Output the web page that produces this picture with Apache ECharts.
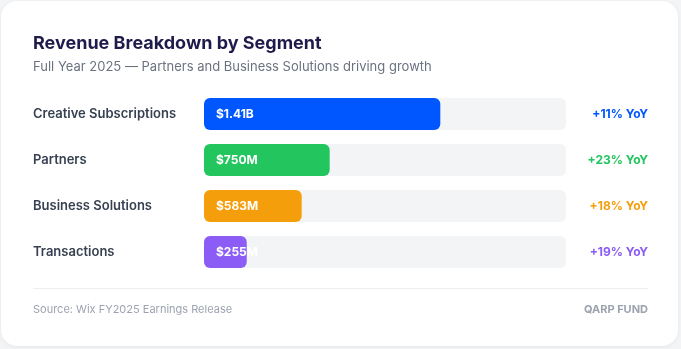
<!DOCTYPE html>
<html>
<head>
<meta charset="utf-8">
<script src="https://cdn.jsdelivr.net/npm/echarts@6/dist/echarts.min.js"></script>
<style>
  html, body { margin: 0; padding: 0; background: #f3f4f6; }
  #chart { width: 681px; height: 349px; }
</style>
</head>
<body>
<div id="chart"></div>
<script>
const categories = ['Creative Subscriptions', 'Partners', 'Business Solutions', 'Transactions'];
const revenue = [1410, 750, 583, 255];
const revenueLabels = ['$1.41B', '$750M', '$583M', '$255M'];
const yoyLabels = ['+11% YoY', '+23% YoY', '+18% YoY', '+19% YoY'];
const colors = ['#0057ff', '#22c55e', '#f59e0b', '#8b5cf6'];

const FONT = 'Inter, "Noto Sans", sans-serif';
const chart = echarts.init(document.getElementById('chart'));

const rich = {};
colors.forEach((c, i) => { rich['c' + i] = { color: c, fontSize: 12, fontWeight: 700, fontFamily: FONT }; });

chart.setOption({
  animation: false,
  backgroundColor: '#f3f4f6',
  graphic: [
    { type: 'rect', z: -10, shape: { x: 1, y: 1, width: 677, height: 345, r: 16 },
      style: { fill: '#ffffff', shadowBlur: 4, shadowColor: 'rgba(0,0,0,0.06)', shadowOffsetY: 1 } },
    { type: 'text', left: 33, top: 35, style: { text: 'Revenue Breakdown by Segment', fill: '#1e1b4b', font: '700 18px ' + FONT } },
    { type: 'text', left: 33, top: 61, style: { text: 'Full Year 2025 — Partners and Business Solutions driving growth', fill: '#6b7280', font: '400 13px ' + FONT } },
    { type: 'line', shape: { x1: 33, y1: 288.5, x2: 648, y2: 288.5 }, style: { stroke: '#eceef1', lineWidth: 1 } },
    { type: 'text', left: 33, top: 304, style: { text: 'Source: Wix FY2025 Earnings Release', fill: '#9ca3af', font: '400 11px ' + FONT } },
    { type: 'text', right: 33, top: 304, style: { text: 'QARP FUND', fill: '#9ca3af', font: '700 11px ' + FONT } }
  ],
  grid: { left: 204, right: 115, top: 91, height: 184 },
  xAxis: { type: 'value', min: 0, max: 2160, show: false },
  yAxis: [
    { type: 'category', data: categories, inverse: true,
      axisLine: { show: false }, axisTick: { show: false },
      axisLabel: { align: 'left', margin: 171, color: '#374151', fontSize: 13, fontWeight: 600, fontFamily: FONT } },
    { type: 'category', data: yoyLabels, inverse: true, position: 'right',
      axisLine: { show: false }, axisTick: { show: false },
      axisLabel: { align: 'right', margin: 82, fontFamily: FONT, rich: rich,
        formatter: (v, i) => '{c' + i + '|' + v + '}' } }
  ],
  series: [{
    type: 'bar',
    data: revenue.map((v, i) => ({ value: v, itemStyle: { color: colors[i] } })),
    barWidth: 32,
    showBackground: true,
    backgroundStyle: { color: '#f3f4f6', borderRadius: 6 },
    itemStyle: { borderRadius: 6 },
    label: { show: true, position: 'insideLeft', distance: 12, color: '#ffffff', fontSize: 12, fontWeight: 700, fontFamily: FONT,
      formatter: p => revenueLabels[p.dataIndex] }
  }]
});
</script>
</body>
</html>
